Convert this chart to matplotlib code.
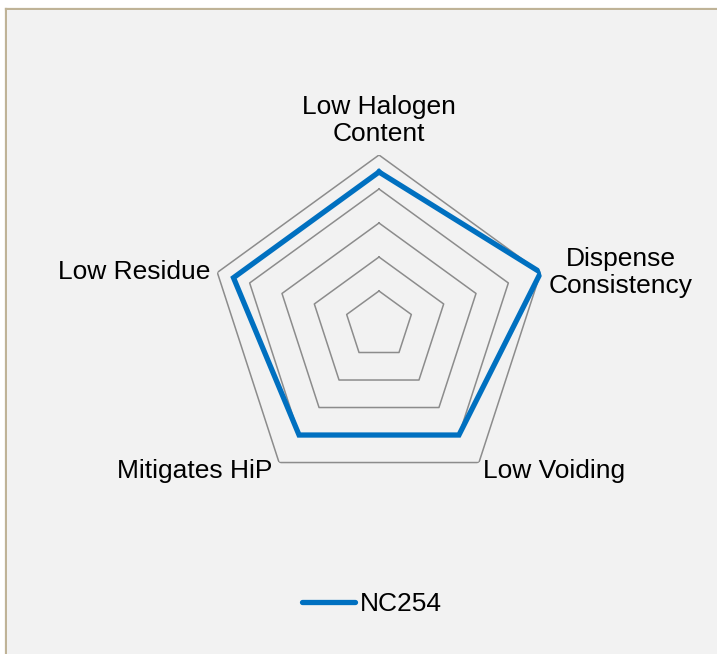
import numpy as np
import matplotlib.pyplot as plt
from matplotlib.patches import Rectangle
from matplotlib.lines import Line2D

plt.rcParams['font.family'] = ['Liberation Sans', 'DejaVu Sans']

categories = ["Low Halogen\nContent", "Dispense\nConsistency", "Low Voiding",
              "Mitigates HiP", "Low Residue"]
nc254 = [4.5, 5, 4, 4, 4.5]
ring_levels = [1, 2, 3, 4, 5]
series_name = "NC254"

W, H = 717, 654
fig = plt.figure(figsize=(W / 100, H / 100), dpi=100, facecolor="white")

# chart area background and left/top border
fig.patches.append(Rectangle((7 / W, 0), 1 - 7 / W, 1 - 10 / H, transform=fig.transFigure,
                             facecolor="#F2F2F2", edgecolor="none", zorder=-1))
fig.add_artist(Line2D([6 / W, 6 / W], [0, 1 - 9 / H], color="#BFB397", lw=1.6,
                      transform=fig.transFigure, zorder=-1))
fig.add_artist(Line2D([6 / W, 1], [1 - 9 / H, 1 - 9 / H], color="#BFB397", lw=1.6,
                      transform=fig.transFigure, zorder=-1))

cx, cy, R = 379, 325, 170
ax = fig.add_axes([(cx - R) / W, (H - cy - R) / H, 2 * R / W, 2 * R / H], projection="polar")
ax.set_facecolor("none")
ax.set_theta_offset(np.pi / 2)
ax.set_theta_direction(-1)
ax.set_ylim(0, 5)
ax.grid(False)
ax.set_xticks([])
ax.set_yticks([])
ax.spines["polar"].set_visible(False)

n = len(categories)
angles = np.linspace(0, 2 * np.pi, n, endpoint=False)
closed = np.concatenate([angles, angles[:1]])

for lev in ring_levels:
    ax.plot(closed, [lev] * (n + 1), color="#8C8C8C", lw=1.1, zorder=2)

vals = nc254 + nc254[:1]
ax.plot(closed, vals, color="#0070C0", lw=3.8, zorder=3, solid_joinstyle="miter")

# category labels placed around outer vertices (offsets in points)
pt = 72 / 100
label_opts = [
    dict(xytext=(0, 9 * pt), ha="center", va="bottom"),
    dict(xytext=(8 * pt, 0), ha="left", va="center"),
    dict(xytext=(4 * pt, -8 * pt), ha="left", va="center"),
    dict(xytext=(-7 * pt, -8 * pt), ha="right", va="center"),
    dict(xytext=(-7 * pt, 0), ha="right", va="center"),
]
for ang, lab, opt in zip(angles, categories, label_opts):
    ax.annotate(lab, xy=(ang, 5), textcoords="offset points", fontsize=19,
                linespacing=1.17, multialignment="center", color="black",
                annotation_clip=False, **opt)

handle = Line2D([], [], color="#0070C0", lw=3.8, solid_capstyle="round")
fig.legend([handle], [series_name], loc="center", bbox_to_anchor=(372 / W, 1 - 604 / H),
           frameon=False, fontsize=19, handlelength=2.0, handletextpad=0.2)

fig.savefig("out.png", dpi=100, facecolor=fig.get_facecolor())
